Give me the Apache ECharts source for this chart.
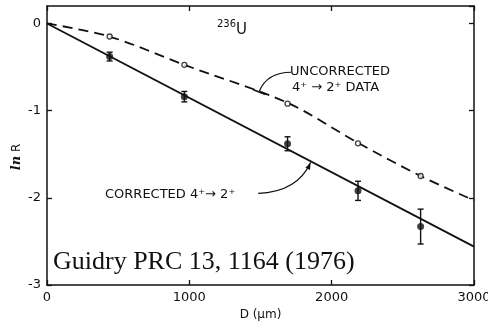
<!DOCTYPE html>
<html>
<head>
<meta charset="utf-8">
<script src="https://cdn.jsdelivr.net/npm/echarts@6/dist/echarts.min.js"></script>
<style>
  html, body { margin: 0; padding: 0; background: #fff; }
  #chart { width: 488px; height: 326px; }
</style>
</head>
<body>
<div id="chart"></div>
<script>
// Attenuation of the 4+ -> 2+ ratio versus recoil distance, 236U
const xTicks = [0, 1000, 2000, 3000];
const yTicks = [0, -1, -2, -3];

// Measured distances (um) and ln R values
const depthD = [440, 965, 1690, 2185, 2625];
const uncorrectedLnR = [-0.15, -0.475, -0.92, -1.375, -1.75];
const correctedLnR = [-0.38, -0.84, -1.38, -1.92, -2.33];
const correctedErr = [0.05, 0.06, 0.08, 0.11, 0.20];

// Dashed guide through the uncorrected data
const uncorrectedCurveD = [0, 440, 965, 1690, 2185, 2625, 3000];
const uncorrectedCurveLnR = [0, -0.15, -0.475, -0.91, -1.37, -1.75, -2.03];

// Straight fit through the corrected data
const correctedFitD = [0, 3000];
const correctedFitLnR = [0, -2.56];

const INK = '#111';
const SANS = 'DejaVu Sans';

const zip = (a, b) => a.map((v, i) => [v, b[i]]);

const chart = echarts.init(document.getElementById('chart'), null, { renderer: 'canvas' });

const axisLine = { show: true, onZero: false, lineStyle: { color: INK, width: 1.5 } };
const tickIn = { show: true, inside: true, length: 5, lineStyle: { color: INK, width: 1.3 } };

chart.setOption({
  animation: false,
  backgroundColor: '#fff',
  grid: { left: 47, right: 14, top: 6, bottom: 41, containLabel: false, outerBoundsMode: 'none' },
  xAxis: [
    {
      type: 'value', position: 'bottom', min: 0, max: 3000, interval: 1000,
      axisLine, axisTick: tickIn, splitLine: { show: false },
      axisLabel: {
        margin: 6, color: INK, fontFamily: SANS, fontSize: 13, hideOverlap: false,
        formatter: v => (xTicks.includes(v) ? String(v) : '')
      },
      name: 'D (\u03bcm)', nameLocation: 'middle', nameGap: 22,
      nameTextStyle: { color: INK, fontFamily: SANS, fontSize: 12 }
    },
    {
      type: 'value', position: 'top', min: 0, max: 3000, interval: 1000,
      axisLine, axisTick: tickIn, splitLine: { show: false }, axisLabel: { show: false }
    }
  ],
  yAxis: [
    {
      type: 'value', position: 'left', min: -3, max: 0.2, interval: 1,
      axisLine, axisTick: tickIn, splitLine: { show: false },
      axisLabel: {
        margin: 6, color: INK, fontFamily: SANS, fontSize: 13, showMaxLabel: false,
        formatter: v => (yTicks.includes(v) ? String(v) : '')
      }
    },
    {
      type: 'value', position: 'right', min: -3, max: 0.2, interval: 1,
      axisLine, axisTick: tickIn, splitLine: { show: false }, axisLabel: { show: false }
    }
  ],
  series: [
    {
      name: 'uncorrected guide', type: 'line', data: zip(uncorrectedCurveD, uncorrectedCurveLnR),
      showSymbol: false, smooth: 0.3, z: 2,
      lineStyle: { color: INK, width: 1.8, type: [10, 6] }
    },
    {
      name: 'corrected fit', type: 'line', data: zip(correctedFitD, correctedFitLnR),
      showSymbol: false, z: 2,
      lineStyle: { color: INK, width: 1.8 }
    },
    {
      name: 'error bars', type: 'custom', z: 3,
      data: depthD.map((d, i) => [d, correctedLnR[i] - correctedErr[i], correctedLnR[i] + correctedErr[i]]),
      renderItem: (params, api) => {
        const lo = api.coord([api.value(0), api.value(1)]);
        const hi = api.coord([api.value(0), api.value(2)]);
        const cap = 3;
        const style = { stroke: INK, lineWidth: 1.4 };
        return {
          type: 'group',
          children: [
            { type: 'line', shape: { x1: lo[0], y1: lo[1], x2: hi[0], y2: hi[1] }, style },
            { type: 'line', shape: { x1: lo[0] - cap, y1: lo[1], x2: lo[0] + cap, y2: lo[1] }, style },
            { type: 'line', shape: { x1: hi[0] - cap, y1: hi[1], x2: hi[0] + cap, y2: hi[1] }, style }
          ]
        };
      }
    },
    {
      name: 'uncorrected', type: 'scatter', data: zip(depthD, uncorrectedLnR),
      symbol: 'circle', symbolSize: 5, z: 4,
      itemStyle: { color: '#fff', borderColor: INK, borderWidth: 1.3 }
    },
    {
      name: 'corrected', type: 'scatter', data: zip(depthD, correctedLnR),
      symbol: 'circle', symbolSize: 7, z: 4,
      itemStyle: { color: INK }
    }
  ]
});

// Annotations: leaders are anchored in data space, then drawn in pixels
const px = p => chart.convertToPixel({ gridIndex: 0 }, p);

const uStart = px([1717, -0.56]);
const uCtrl = px([1545, -0.56]);
const uEnd = px([1491, -0.78]);
const uBarA = px([1450, -0.76]);
const uBarB = px([1535, -0.815]);

const cStart = px([1484, -1.95]);
const cCtrl = px([1760, -1.93]);
const cEnd = px([1852, -1.595]);

// arrowhead at the end of the corrected leader
const ang = Math.atan2(cEnd[1] - cCtrl[1], cEnd[0] - cCtrl[0]);
const aLen = 7, aHalf = 2.5;
const back = [cEnd[0] - aLen * Math.cos(ang), cEnd[1] - aLen * Math.sin(ang)];
const arrowPts = [
  cEnd,
  [back[0] + aHalf * Math.sin(ang), back[1] - aHalf * Math.cos(ang)],
  [back[0] - aHalf * Math.sin(ang), back[1] + aHalf * Math.cos(ang)]
];

const txt = (x, y, text, font, extra) => Object.assign({
  type: 'text', x, y, z: 10,
  style: Object.assign({ text, font, fill: INK, align: 'left', verticalAlign: 'middle' }, extra || {})
});

chart.setOption({
  graphic: [
    {
      type: 'bezierCurve', z: 10,
      shape: { x1: uStart[0], y1: uStart[1], x2: uEnd[0], y2: uEnd[1], cpx1: uCtrl[0], cpy1: uCtrl[1] },
      style: { stroke: INK, lineWidth: 1.2, fill: null }
    },
    {
      type: 'line', z: 10,
      shape: { x1: uBarA[0], y1: uBarA[1], x2: uBarB[0], y2: uBarB[1] },
      style: { stroke: INK, lineWidth: 1.6 }
    },
    {
      type: 'bezierCurve', z: 10,
      shape: { x1: cStart[0], y1: cStart[1], x2: cEnd[0], y2: cEnd[1], cpx1: cCtrl[0], cpy1: cCtrl[1] },
      style: { stroke: INK, lineWidth: 1.2, fill: null }
    },
    {
      type: 'polygon', z: 10,
      shape: { points: arrowPts },
      style: { fill: INK }
    },
    txt(290, 72, 'UNCORRECTED', '13px "DejaVu Sans"'),
    txt(292, 88, '4\u207a \u2192 2\u207a DATA', '13px "DejaVu Sans"'),
    txt(105, 195, 'CORRECTED 4\u207a\u2192 2\u207a', '13px "DejaVu Sans"'),
    txt(217, 24, '236', '10px "DejaVu Sans"'),
    txt(236, 30, 'U', '15px "DejaVu Sans"'),
    {
      type: 'text', x: 17, y: 157, rotation: Math.PI / 2, z: 10,
      style: {
        text: '{a|ln} R', align: 'center', verticalAlign: 'middle', fill: INK,
        rich: {
          a: { font: 'italic bold 13px "DejaVu Serif"', fill: INK },
        },
        font: '12px "DejaVu Sans"'
      }
    },
    txt(53, 262, 'Guidry PRC 13, 1164 (1976)', '26px "Liberation Serif"')
  ]
});
</script>
</body>
</html>
